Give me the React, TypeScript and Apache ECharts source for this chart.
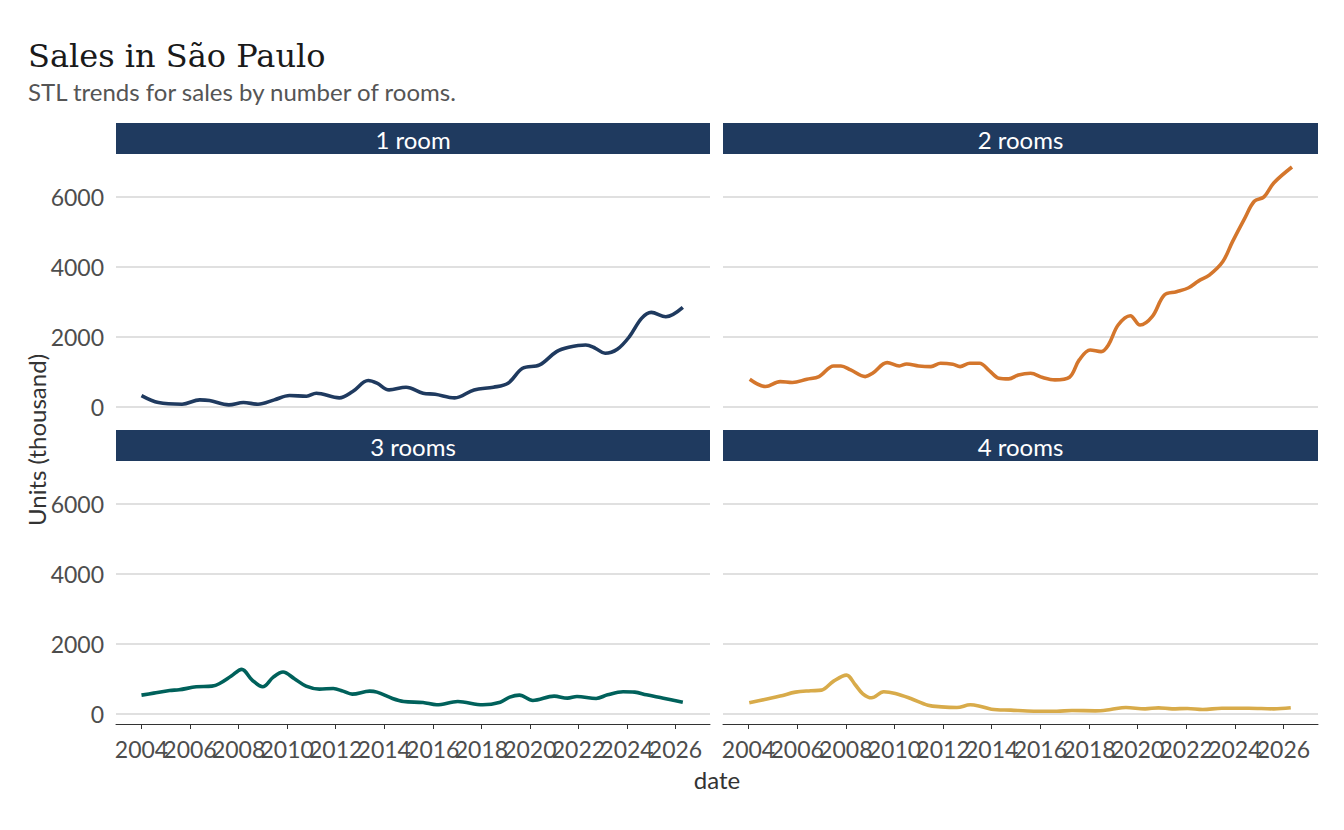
import React, { useEffect, useRef } from "react";
import * as echarts from "echarts";

const panelTitles = ["1 room", "2 rooms", "3 rooms", "4 rooms"];
const yTicks = [0, 2000, 4000, 6000];
const xTicks = [2004, 2006, 2008, 2010, 2012, 2014, 2016, 2018, 2020, 2022, 2024, 2026];

const room1Years = [2004.0, 2004.7, 2005.67, 2006.4, 2006.8, 2007.6, 2008.2, 2008.8, 2009.47, 2010.1, 2010.8, 2011.2, 2012.15, 2012.7, 2013.34, 2013.7, 2014.2, 2014.9, 2015.6, 2016.1, 2016.9, 2017.7, 2018.5, 2019.1, 2019.7, 2020.4, 2021.1, 2021.6, 2022.3, 2022.7, 2023.1, 2023.6, 2024.1, 2024.6, 2025.0, 2025.6, 2026.3];
const room1Values = [314, 114, 67, 190, 171, 48, 114, 67, 190, 314, 295, 381, 248, 429, 743, 667, 476, 552, 381, 352, 248, 476, 552, 667, 1095, 1190, 1571, 1695, 1762, 1667, 1524, 1638, 2000, 2524, 2695, 2571, 2838];

const room2Years = [2004.05, 2004.7, 2005.3, 2005.8, 2006.4, 2006.9, 2007.5, 2007.8, 2008.2, 2008.8, 2009.1, 2009.7, 2010.2, 2010.5, 2011.0, 2011.5, 2011.9, 2012.4, 2012.7, 2013.1, 2013.5, 2013.9, 2014.3, 2014.7, 2015.1, 2015.6, 2016.1, 2016.6, 2017.2, 2017.6, 2018.05, 2018.5, 2018.8, 2019.2, 2019.7, 2020.1, 2020.6, 2021.1, 2021.6, 2022.1, 2022.5, 2022.95, 2023.5, 2023.9, 2024.4, 2024.8, 2025.2, 2025.6, 2026.35];
const room2Values = [781, 571, 714, 686, 781, 857, 1162, 1162, 1048, 857, 952, 1257, 1162, 1219, 1162, 1143, 1238, 1210, 1143, 1238, 1238, 1029, 810, 790, 905, 952, 829, 762, 838, 1333, 1619, 1571, 1762, 2333, 2600, 2333, 2571, 3190, 3286, 3400, 3590, 3762, 4143, 4714, 5381, 5876, 6000, 6400, 6857];

const room3Years = [2004.0, 2004.5, 2005.16, 2005.55, 2006.26, 2006.9, 2007.2, 2007.7, 2008.13, 2008.56, 2008.99, 2009.43, 2009.83, 2010.3, 2010.78, 2011.33, 2011.9, 2012.3, 2012.68, 2013.4, 2013.7, 2014.34, 2014.8, 2015.6, 2016.16, 2017.03, 2018.06, 2018.78, 2019.17, 2019.57, 2020.12, 2021.0, 2021.55, 2021.94, 2022.73, 2023.2, 2023.84, 2024.32, 2024.8, 2025.5, 2026.3];
const room3Values = [526, 584, 660, 679, 765, 785, 852, 1072, 1263, 957, 765, 1043, 1187, 995, 785, 699, 718, 641, 555, 641, 612, 431, 344, 316, 249, 344, 249, 325, 469, 526, 373, 498, 440, 488, 431, 536, 622, 612, 536, 440, 325];

const room4Years = [2004.03, 2004.66, 2005.3, 2005.93, 2006.56, 2007.0, 2007.5, 2008.03, 2008.38, 2008.7, 2009.06, 2009.56, 2010.04, 2010.67, 2011.38, 2011.93, 2012.57, 2013.12, 2013.51, 2013.99, 2014.78, 2015.73, 2016.68, 2017.3, 2018.26, 2018.89, 2019.52, 2020.31, 2020.86, 2021.42, 2022.05, 2022.68, 2023.47, 2024.57, 2025.6, 2026.3];
const room4Values = [306, 402, 498, 612, 651, 670, 928, 1100, 832, 565, 450, 622, 574, 431, 239, 191, 172, 249, 210, 124, 96, 67, 67, 86, 77, 115, 172, 134, 163, 134, 144, 115, 153, 153, 134, 163];

const seriesYears = [room1Years, room2Years, room3Years, room4Years];
const seriesValues = [room1Values, room2Values, room3Values, room4Values];
const seriesColors = ["#1f3a5f", "#d4762c", "#00615b", "#d8ab4a"];

const FONT = "Lato";
const X_MIN = 2002.95;
const X_MAX = 2027.42;
const panels = [
  { left: 116, top: 155, width: 594, height: 262 },
  { left: 723, top: 155, width: 595, height: 262 },
  { left: 116, top: 462, width: 594, height: 262 },
  { left: 723, top: 462, width: 595, height: 262 },
];

// ECharts hides the label next to the first/last one when they touch,
// so the second and second-to-last tick labels go on a companion axis.
const innerEdgeTicks = [xTicks[1], xTicks[xTicks.length - 2]];
const mainLabelTicks = xTicks.filter((t) => !innerEdgeTicks.includes(t));

const labelStyle = {
  fontFamily: FONT,
  fontSize: 23,
  color: "#4d4d4d",
  margin: 13,
  hideOverlap: false,
  showMinLabel: true,
  showMaxLabel: true,
  formatter: (v: number) => String(Math.round(v)),
};

export default function App() {
  const ref = useRef<HTMLDivElement>(null);
  useEffect(() => {
    const chart = echarts.init(ref.current!, null, { renderer: "svg" });
    const grid = panels.map((p) => ({ ...p, containLabel: false }));
    const xAxis: any[] = panels.map((_, i) => {
      const bottom = i >= 2;
      return {
        type: "value",
        gridIndex: i,
        position: "bottom",
        min: X_MIN,
        max: X_MAX,
        axisLine: { show: bottom, onZero: false, lineStyle: { color: "#333333", width: 1 } },
        axisTick: { show: bottom, customValues: xTicks, length: 5, lineStyle: { color: "#333333", width: 1 } },
        axisLabel: { ...labelStyle, show: bottom, customValues: mainLabelTicks },
        splitLine: { show: false },
      };
    });
    [2, 3].forEach((g) => {
      xAxis.push({
        type: "value",
        gridIndex: g,
        position: "bottom",
        offset: 0,
        min: X_MIN,
        max: X_MAX,
        axisLine: { show: false, onZero: false },
        axisTick: { show: false, customValues: innerEdgeTicks },
        axisLabel: { ...labelStyle, show: true, customValues: innerEdgeTicks },
        splitLine: { show: false },
      });
    });
    const yAxis = panels.map((_, i) => ({
      type: "value",
      gridIndex: i,
      min: -300,
      max: 7200,
      axisLine: { show: false },
      axisTick: { show: false, customValues: yTicks },
      axisLabel: {
        show: i % 2 === 0,
        customValues: yTicks,
        formatter: (v: number) => String(Math.round(v)),
        fontFamily: FONT,
        fontSize: 23,
        color: "#4d4d4d",
        margin: 12,
        showMinLabel: true,
        showMaxLabel: true,
      },
      splitLine: { show: true, lineStyle: { color: "#d6d6d6", width: 1.6 } },
    }));
    const series = seriesValues.map((vals, i) => ({
      type: "line",
      xAxisIndex: i,
      yAxisIndex: i,
      data: vals.map((v, k) => [seriesYears[i][k], v]),
      showSymbol: false,
      smooth: 0.35,
      lineStyle: { color: seriesColors[i], width: 3.6 },
      itemStyle: { color: seriesColors[i] },
    }));
    const strips: any[] = [];
    panels.forEach((p, i) => {
      strips.push({
        type: "rect",
        shape: { x: p.left, y: p.top - 32, width: p.width, height: 31 },
        style: { fill: "#1f3a5f" },
      });
      strips.push({
        type: "text",
        x: p.left + p.width / 2,
        y: p.top - 16,
        style: {
          text: panelTitles[i],
          fill: "#ffffff",
          font: `24px ${FONT}`,
          align: "center",
          verticalAlign: "middle",
        },
      });
    });
    const option = {
      animation: false,
      backgroundColor: "#ffffff",
      grid,
      xAxis,
      yAxis,
      series,
      graphic: [
        ...strips,
        {
          type: "text",
          x: 28,
          y: 55.5,
          style: {
            text: "Sales in São Paulo",
            fill: "#1a1a1a",
            font: "32px 'DejaVu Serif'",
            align: "left",
            verticalAlign: "middle",
          },
        },
        {
          type: "text",
          x: 28,
          y: 91,
          style: {
            text: "STL trends for sales by number of rooms.",
            fill: "#555555",
            font: `24px ${FONT}`,
            align: "left",
            verticalAlign: "middle",
          },
        },
        {
          type: "text",
          x: 36,
          y: 440,
          rotation: Math.PI / 2,
          style: {
            text: "Units (thousand)",
            fill: "#333333",
            font: `24px ${FONT}`,
            align: "center",
            verticalAlign: "middle",
          },
        },
        {
          type: "text",
          x: 717,
          y: 779,
          style: {
            text: "date",
            fill: "#333333",
            font: `24px ${FONT}`,
            align: "center",
            verticalAlign: "middle",
          },
        },
      ],
    };
    chart.setOption(option as any);
    return () => chart.dispose();
  }, []);
  return (
    <div
      ref={ref}
      style={{ position: "absolute", left: 0, top: 0, width: 1344, height: 830, background: "#fff" }}
    />
  );
}
